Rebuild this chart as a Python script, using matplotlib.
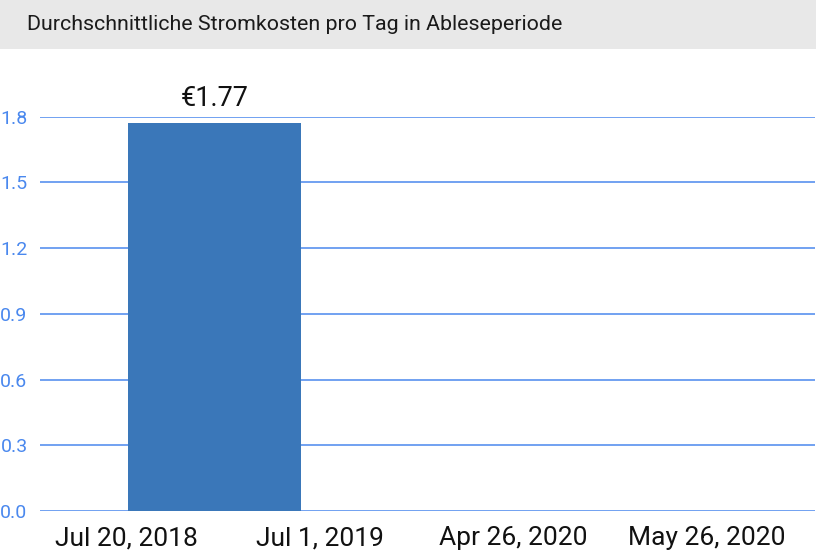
import matplotlib
matplotlib.use("Agg")
import matplotlib.pyplot as plt
from matplotlib.patches import Rectangle

# Ablesedaten
periods = ["Jul 20, 2018", "Jul 1, 2019", "Apr 26, 2020", "May 26, 2020"]
cost_per_day = [1.77, 0.0, 0.0, 0.0]
yticks = [0.0, 0.3, 0.6, 0.9, 1.2, 1.5, 1.8]
title = "Durchschnittliche Stromkosten pro Tag in Ableseperiode"

plt.rcParams["font.family"] = ["Roboto", "DejaVu Sans"]

W, H = 816, 556
fig = plt.figure(figsize=(W / 100, H / 100), dpi=100)

# grauer Kopfbereich
fig.patches.append(Rectangle((0, 1 - 49 / H), 1, 49 / H, transform=fig.transFigure,
                             facecolor="#e8e8e8", edgecolor="none", zorder=0))
fig.text(27 / W, 1 - 24 / H, title, fontsize=15.4, color="#1a1a1a", va="center", ha="left")

# Achse: y 0 -> px 511, 1.8 -> px 116.7 ; x Labels bei 126.5 + 193.5*i
ax = fig.add_axes([40 / W, 1 - 511 / H, (815 - 40) / W, (511 - 116.7) / H])
ax.set_xlim((40 - 126.5) / 193.5, (815 - 126.5) / 193.5)
ax.set_ylim(0, 1.8)

grid_col = "#4a88ee"
bar_col = "#3a77b9"
bw = 0.895
xs = [i + 0.008 for i in range(len(periods))]
ax.bar(xs, cost_per_day, width=bw, align="edge", color=bar_col, zorder=2)
for x, v in zip(xs, cost_per_day):
    if v > 0:
        ax.text(x + bw / 2, 1.8 + 0.02, f"€{v:.2f}", ha="center", va="bottom",
                fontsize=19.5, color="#111111")

for y in yticks:
    ax.axhline(y, color=grid_col, lw=1.1, zorder=1)

ax.set_yticks(yticks)
ax.set_yticklabels([f"{t:.1f}" for t in yticks], fontsize=14, color=grid_col)
ax.set_xticks(range(len(periods)))
ax.set_xticklabels(periods, fontsize=19, color="#111111")
ax.tick_params(axis="both", length=0)
ax.tick_params(axis="y", pad=9)
ax.tick_params(axis="x", pad=11)
for s in ax.spines.values():
    s.set_visible(False)
ax.patch.set_alpha(0)

fig.savefig("out.png", dpi=100)
